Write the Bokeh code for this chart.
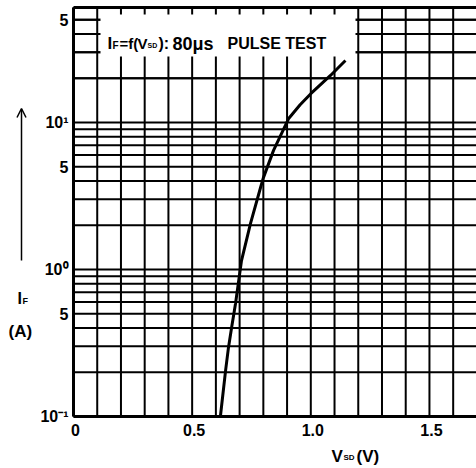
from bokeh.plotting import figure
from bokeh.models import Arrow, OpenHead, Range1d
from bokeh.core.properties import value
from bokeh.embed import file_html
from bokeh.resources import INLINE

# forward characteristic
vsd = [0.619, 0.641, 0.653, 0.666, 0.683, 0.708, 0.746, 0.788, 0.80, 0.843, 0.906, 0.955, 1.0, 1.083, 1.146]
i_f = [0.1, 0.206, 0.294, 0.40, 0.59, 1.15, 2.06, 3.6, 4.2, 6.46, 10.6, 13.2, 15.7, 20.9, 26.4]

x_ticks = [0, 0.5, 1.0, 1.5]
x_tick_labels = ["0", "0.5", "1.0", "1.5"]
y_ticks = [0.1, 0.5, 1, 5, 10, 50]
y_tick_labels = ["10\u207b\u00b9", "5", "10\u2070", "5", "10\u00b9", "5"]
x_grid = [round(0.1 * k, 1) for k in range(0, 18)]
y_grid = [m * 10.0 ** e for e in (-1, 0, 1) for m in range(1, 10)] + [20, 30, 40, 50, 60]

W, H = 476, 468
PX_PER_V = 237.3
PX_PER_DEC = 147.0
ORIGIN_X, ORIGIN_Y = 73, 416  # pixel position of (0 V, 0.1 A)

def sx(px):
    return (px - ORIGIN_X) / PX_PER_V

def sy(py):
    return 10 ** ((ORIGIN_Y - py) / PX_PER_DEC - 1)

XMIN, XMAX = 0.0, sx(W)
YMIN, YMAX = 0.1, sy(7)

p = figure(width=W, height=H, output_backend="svg", toolbar_location=None,
           y_axis_type="log", x_range=Range1d(sx(0), sx(W)), y_range=Range1d(sy(H), sy(0)),
           min_border=0)
p.axis.visible = False
p.grid.visible = False
p.outline_line_color = None
p.background_fill_color = "white"
p.border_fill_color = "white"

# grid
vg = [g for g in x_grid if g <= XMAX]
p.segment(x0=vg, x1=vg, y0=[YMIN] * len(vg), y1=[YMAX] * len(vg),
          line_color="black", line_width=2)
hg = [g for g in y_grid if g <= YMAX]
p.segment(x0=[XMIN] * len(hg), x1=[XMAX] * len(hg), y0=hg, y1=hg,
          line_color="black", line_width=2)

# white box behind the condition text
p.quad(left=[sx(100)], right=[sx(355)], bottom=[sy(56)], top=[sy(14)],
       fill_color="white", line_color=None)

# frame
p.segment(x0=[XMIN, XMIN, XMIN], x1=[XMIN, XMAX, XMAX],
          y0=[YMIN, YMIN, YMAX], y1=[YMAX, YMIN, YMAX],
          line_color="black", line_width=3)

# curve
p.line(vsd, i_f, line_color="black", line_width=3)

FONT = value("Liberation Sans")

# tick labels
p.text(x=x_ticks, y=[sy(423)] * len(x_ticks), text=x_tick_labels, x_offset=2,
       text_font=FONT, text_font_style="bold", text_font_size="16px",
       text_align="center", text_baseline="top", text_color="black")
p.text(x=[XMIN] * len(y_ticks), y=y_ticks, text=y_tick_labels, x_offset=-5,
       text_font=FONT, text_font_style="bold", text_font_size="16px",
       text_align="right", text_baseline="middle", text_color="black")

def lab(text, px, py, size):
    p.text(x=[sx(px)], y=[sy(py)], text=[text], text_font=FONT,
           text_font_style="bold", text_font_size=size, text_color="black",
           text_baseline="alphabetic", text_align="left")

# condition text: I_F = f(V_SD):80us PULSE TEST
lab("I", 107, 43, "17px")
lab("F", 112, 45, "10px")
lab("=f(", 119, 43, "15px")
lab("V", 137, 43, "15px")
lab("SD", 147, 45, "7px")
lab("):", 158, 43, "16px")
lab("80\u03bcs", 172, 43, "18px")
lab("PULSE TEST", 227, 43, "16px")

# y axis title
p.add_layout(Arrow(end=OpenHead(size=9, line_width=1.5, line_color="black"),
                   x_start=sx(21), y_start=sy(260), x_end=sx(21), y_end=sy(108),
                   line_color="black", line_width=1.5))
lab("I", 17, 298, "16px")
lab("F", 22, 300, "9px")
lab("(A)", 8, 331, "17px")

# x axis title
lab("V", 331, 456, "17px")
lab("SD", 343, 457, "8px")
lab("(V)", 356, 456, "17px")

open("out.html", "w").write(file_html(p, INLINE))
